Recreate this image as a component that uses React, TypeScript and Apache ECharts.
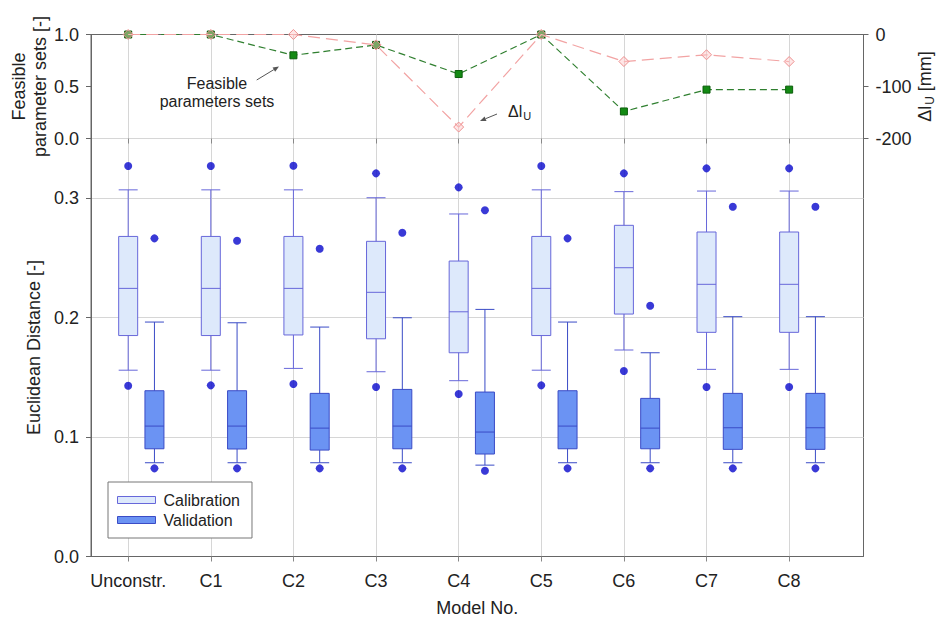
import React, { useEffect, useRef } from 'react';
import * as echarts from 'echarts';

// ---------- data ----------
const categories = ['Unconstr.', 'C1', 'C2', 'C3', 'C4', 'C5', 'C6', 'C7', 'C8'];
const feasibleSets = [1.0, 1.0, 0.8, 0.9, 0.62, 1.0, 0.26, 0.47, 0.47];
const deltaLU = [0, 0, 0, -20, -178, 0, -52, -39, -52];

// [lower whisker, Q1, median, Q3, upper whisker]
const calibrationBoxes = [
  [0.156, 0.185, 0.2245, 0.268, 0.307],
  [0.156, 0.185, 0.2245, 0.268, 0.307],
  [0.1575, 0.1855, 0.2245, 0.268, 0.307],
  [0.1547, 0.1823, 0.2212, 0.2639, 0.3004],
  [0.1472, 0.1706, 0.2049, 0.2474, 0.2868],
  [0.156, 0.185, 0.2245, 0.268, 0.307],
  [0.1729, 0.203, 0.2418, 0.2773, 0.3055],
  [0.1567, 0.1877, 0.2279, 0.2717, 0.306],
  [0.1567, 0.1877, 0.2279, 0.2717, 0.306],
];
const calibrationOutlierHigh = [0.327, 0.327, 0.3272, 0.3208, 0.3091, 0.327, 0.3208, 0.325, 0.325];
const calibrationOutlierLow = [0.143, 0.1433, 0.1444, 0.1419, 0.136, 0.1433, 0.1553, 0.1419, 0.1419];

const validationBoxes = [
  [0.0785, 0.0902, 0.1092, 0.1388, 0.1963],
  [0.0785, 0.09, 0.1092, 0.1388, 0.1957],
  [0.0785, 0.0891, 0.1075, 0.1366, 0.1921],
  [0.0785, 0.0902, 0.1092, 0.1399, 0.1999],
  [0.0765, 0.0858, 0.1042, 0.1377, 0.2069],
  [0.0785, 0.0902, 0.1092, 0.1388, 0.1963],
  [0.0785, 0.0902, 0.1075, 0.1324, 0.1706],
  [0.0785, 0.0897, 0.1078, 0.1366, 0.2008],
  [0.0785, 0.0897, 0.1078, 0.1366, 0.2008],
];
const validationOutlierHigh = [0.2664, 0.2644, 0.2577, 0.2711, 0.2899, 0.2664, 0.21, 0.2929, 0.2929];
const validationOutlierLow = [0.0738, 0.0738, 0.0738, 0.0738, 0.0718, 0.0738, 0.0738, 0.0738, 0.0738];

// ---------- layout / style ----------
const FONT = "Arial, 'Liberation Sans', sans-serif";
const TXT = '#222';
const AX = '#666';
const GRID_C = '#d6d6d6';
const VAL_OFFSET = 0.318;
const X_MIN = 0.55;
const X_MAX = 9.9;

const L = 91;
const R = 73.5;
const CAT_L = 128.3;
const CAT_R = 148;
const T0 = 34.5;
const MID = 138.5;
const B1 = 64.5;

const CAL_FILL = '#dde9fb';
const CAL_EDGE = '#6767da';
const VAL_FILL = '#6b93f3';
const VAL_EDGE = '#3a4bc6';
const DOT = '#0808cc';

function arrow(x1: number, y1: number, x2: number, y2: number) {
  const dx = x2 - x1;
  const dy = y2 - y1;
  const len = Math.sqrt(dx * dx + dy * dy);
  const ux = dx / len;
  const uy = dy / len;
  const hl = 6;
  const hw = 2.5;
  const bx = x2 - ux * hl;
  const by = y2 - uy * hl;
  return [
    { type: 'line', shape: { x1, y1, x2: bx, y2: by }, style: { stroke: '#555', lineWidth: 1 } },
    {
      type: 'polygon',
      shape: { points: [[x2, y2], [bx - uy * hw, by + ux * hw], [bx + uy * hw, by - ux * hw]] },
      style: { fill: '#555' },
    },
  ];
}

export default function App() {
  const ref = useRef<HTMLDivElement>(null);

  useEffect(() => {
    if (!ref.current) return;
    const chart = echarts.init(ref.current, undefined, { renderer: 'svg' });
    const xs = categories.map((_, i) => i + 1);

    const labelStyle = { fontSize: 18, color: TXT, fontFamily: FONT };
    const nameStyle = { fontSize: 18, color: TXT, fontFamily: FONT };
    const hiddenValueX = (gridIndex: number) => ({
      gridIndex, type: 'value', min: X_MIN, max: X_MAX,
      axisLine: { show: false }, axisTick: { show: false }, axisLabel: { show: false }, splitLine: { show: false },
    });

    const option: any = {
      animation: false,
      backgroundColor: '#fff',
      grid: [
        { left: L, right: R, top: T0, height: MID - T0, show: true, borderColor: AX, borderWidth: 1, outerBoundsMode: 'none' },
        { left: L, right: R, top: MID, bottom: B1, show: true, borderColor: AX, borderWidth: 1, outerBoundsMode: 'none' },
        { left: CAT_L, right: CAT_R, top: MID, bottom: B1, outerBoundsMode: 'none' },
        { left: CAT_L, right: CAT_R, top: T0, height: MID - T0, outerBoundsMode: 'none' },
      ],
      xAxis: [
        hiddenValueX(0),
        {
          gridIndex: 1, type: 'value', min: X_MIN, max: X_MAX,
          axisLine: { show: true, lineStyle: { color: AX } }, axisTick: { show: false }, axisLabel: { show: false },
          splitLine: { show: false },
          name: 'Model No.', nameLocation: 'middle', nameGap: 42, nameTextStyle: nameStyle, nameMoveOverlap: false,
        },
        {
          gridIndex: 2, type: 'category', data: categories, boundaryGap: false,
          axisLine: { show: false },
          axisTick: { show: true, interval: 0, length: 5, lineStyle: { color: '#888' } },
          axisLabel: { interval: 0, margin: 15, ...labelStyle },
          splitLine: { show: true, interval: 0, lineStyle: { color: GRID_C } },
        },
        {
          gridIndex: 3, type: 'category', data: categories, boundaryGap: false,
          axisLine: { show: false },
          axisTick: { show: true, interval: 0, length: 5, lineStyle: { color: '#888' } },
          axisLabel: { show: false },
          splitLine: { show: true, interval: 0, lineStyle: { color: GRID_C } },
        },
        hiddenValueX(1),
      ],
      yAxis: [
        {
          gridIndex: 0, type: 'value', min: 0, max: 1, interval: 0.5, position: 'left',
          axisLine: { show: true, lineStyle: { color: AX } },
          axisTick: { show: true, length: 5, lineStyle: { color: AX } },
          axisLabel: { margin: 12, formatter: (v: number) => v.toFixed(1), ...labelStyle },
          splitLine: { show: false },
          name: 'Feasible\nparameter sets [-]', nameLocation: 'middle', nameGap: 40, nameMoveOverlap: false,
          nameTextStyle: { ...nameStyle, lineHeight: 21.5 },
        },
        {
          gridIndex: 0, type: 'value', min: -200, max: 0, interval: 100, position: 'right',
          axisLine: { show: true, lineStyle: { color: AX } },
          axisTick: { show: true, length: 5, lineStyle: { color: AX } },
          axisLabel: { margin: 12, ...labelStyle },
          splitLine: { show: false },
          name: '{a|Δl}{s|U}{a| [mm]}', nameLocation: 'middle', nameGap: 50, nameMoveOverlap: false,
          nameTextStyle: {
            ...nameStyle,
            rich: {
              a: { fontSize: 18, color: TXT, fontFamily: FONT },
              s: { fontSize: 12, color: TXT, fontFamily: FONT, padding: [10, 0, 0, 1] },
            },
          },
        },
        {
          gridIndex: 1, type: 'value', min: 0, max: 0.35, interval: 0.1,
          axisLine: { show: true, lineStyle: { color: AX } },
          axisTick: { show: true, length: 5, lineStyle: { color: AX } },
          axisLabel: { margin: 12, formatter: (v: number) => (v > 0.305 ? '' : v.toFixed(1)), ...labelStyle },
          splitLine: { show: true, lineStyle: { color: GRID_C } },
          name: 'Euclidean Distance [-]', nameLocation: 'middle', nameGap: 48, nameTextStyle: nameStyle, nameMoveOverlap: false,
        },
        { gridIndex: 2, type: 'value', show: false },
        { gridIndex: 3, type: 'value', show: false },
      ],
      legend: {
        show: true,
        orient: 'vertical',
        left: 108,
        top: 482,
        padding: [10, 12, 10, 9],
        itemGap: 4,
        itemWidth: 38,
        itemHeight: 7,
        icon: 'rect',
        borderColor: '#777',
        borderWidth: 1,
        backgroundColor: '#fff',
        selectedMode: false,
        textStyle: { fontSize: 16, color: TXT, fontFamily: FONT, padding: [0, 0, 0, 3] },
        data: [
          { name: 'Calibration', itemStyle: { color: CAL_FILL, borderColor: CAL_EDGE, borderWidth: 1 } },
          { name: 'Validation', itemStyle: { color: VAL_FILL, borderColor: VAL_EDGE, borderWidth: 1 } },
        ],
      },
      series: [
        {
          name: 'Feasible parameter sets', type: 'line', xAxisIndex: 0, yAxisIndex: 0,
          data: feasibleSets.map((v, i) => [xs[i], v]),
          symbol: 'rect', symbolSize: 7,
          lineStyle: { color: '#2f7f2f', width: 1.2, type: [7, 4] },
          itemStyle: { color: '#138a13', borderColor: '#0b5e0b', borderWidth: 1 },
          z: 3,
        },
        {
          name: 'ΔlU', type: 'line', xAxisIndex: 0, yAxisIndex: 1,
          data: deltaLU.map((v, i) => [xs[i], v]),
          symbol: 'diamond', symbolSize: 10,
          lineStyle: { color: '#f2a3a3', width: 1.2, type: [12, 6] },
          itemStyle: { color: 'rgba(255,200,200,0.45)', borderColor: '#ee9090', borderWidth: 1 },
          z: 4,
        },
        {
          name: 'Calibration', type: 'boxplot', xAxisIndex: 1, yAxisIndex: 2,
          layout: 'horizontal',
          boxWidth: [19, 19],
          data: calibrationBoxes.map((b, i) => [xs[i], ...b]),
          itemStyle: { color: CAL_FILL, borderColor: CAL_EDGE, borderWidth: 1 },
        },
        {
          name: 'Validation', type: 'boxplot', xAxisIndex: 4, yAxisIndex: 2,
          layout: 'horizontal',
          boxWidth: [19, 19],
          data: validationBoxes.map((b, i) => [xs[i] + VAL_OFFSET, ...b]),
          itemStyle: { color: VAL_FILL, borderColor: VAL_EDGE, borderWidth: 1 },
        },
        {
          name: 'Calibration outliers', type: 'scatter', xAxisIndex: 1, yAxisIndex: 2,
          symbolSize: 8,
          data: xs.flatMap((x, i) => [[x, calibrationOutlierHigh[i]], [x, calibrationOutlierLow[i]]]),
          itemStyle: { color: DOT },
          z: 5,
        },
        {
          name: 'Validation outliers', type: 'scatter', xAxisIndex: 1, yAxisIndex: 2,
          symbolSize: 8,
          data: xs.flatMap((x, i) => [
            [x + VAL_OFFSET, validationOutlierHigh[i]],
            [x + VAL_OFFSET, validationOutlierLow[i]],
          ]),
          itemStyle: { color: DOT },
          z: 5,
        },
      ],
      graphic: [
        {
          type: 'text', x: 217, y: 92.5, z: 10,
          style: {
            text: 'Feasible\nparameters sets', fill: TXT, fontSize: 16, fontFamily: FONT,
            align: 'center', verticalAlign: 'middle', textAlign: 'center', textVerticalAlign: 'middle', lineHeight: 18.5,
          },
        },
        ...arrow(256.7, 80, 279, 66.5),
        {
          type: 'text', x: 508, y: 111, z: 10,
          style: {
            text: '{a|Δl}{s|U}', fill: TXT,
            align: 'left', verticalAlign: 'middle', textAlign: 'left', textVerticalAlign: 'middle',
            rich: {
              a: { fontSize: 16, fontFamily: FONT, fill: TXT, color: TXT },
              s: { fontSize: 11, fontFamily: FONT, fill: TXT, color: TXT, padding: [9, 0, 0, 1] },
            },
          },
        },
        ...arrow(497, 114, 480, 121),
      ],
    };

    chart.setOption(option);
    return () => chart.dispose();
  }, []);

  return (
    <div
      ref={ref}
      style={{ position: 'fixed', left: 0, top: 0, width: 937, height: 621, background: '#fff' }}
    />
  );
}
